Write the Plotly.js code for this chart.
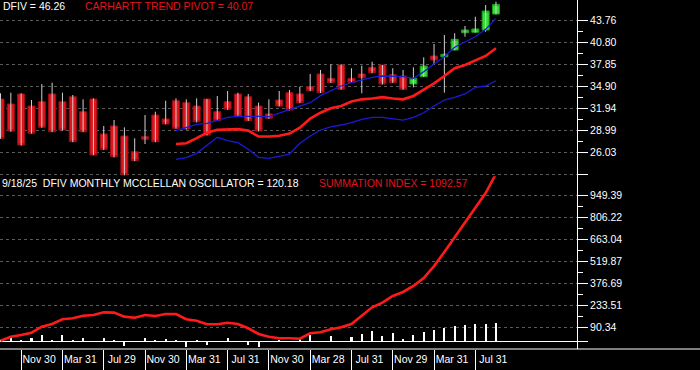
<!DOCTYPE html>
<html><head><meta charset="utf-8">
<script src="https://cdn.plot.ly/plotly-3.0.1.min.js"></script>
<style>html,body{margin:0;padding:0;background:#000;}#chart{width:700px;height:370px;}</style>
</head><body><div id="chart"></div>
<script>
// Months Sep 2021 .. Sep 2025
const months = ['2021-09','2021-10','2021-11','2021-12','2022-01','2022-02','2022-03','2022-04','2022-05','2022-06','2022-07','2022-08','2022-09','2022-10','2022-11','2022-12','2023-01','2023-02','2023-03','2023-04','2023-05','2023-06','2023-07','2023-08','2023-09','2023-10','2023-11','2023-12','2024-01','2024-02','2024-03','2024-04','2024-05','2024-06','2024-07','2024-08','2024-09','2024-10','2024-11','2024-12','2025-01','2025-02','2025-03','2025-04','2025-05','2025-06','2025-07','2025-08','2025-09'];

const open  = [33.24,32.57,33.92,32.30,32.88,33.92,32.88,33.55,31.54,33.24,28.54,29.62,28.27,26.16,28.18,31.09,30.56,33.01,32.75,32.30,33.24,31.54,32.88,33.92,33.55,32.30,31.23,33.11,34.09,33.92,34.90,36.60,36.02,37.81,36.02,36.60,37.50,37.81,36.51,36.33,35.26,36.24,39.02,38.92,39.82,42.15,42.20,42.51,44.66];
const high  = [34.01,34.09,34.01,33.11,35.26,35.43,34.09,33.78,33.20,33.33,29.62,30.42,29.44,27.96,31.09,31.54,33.01,33.33,33.20,33.33,33.24,33.65,34.32,34.09,33.92,32.75,33.20,34.32,34.45,34.90,36.60,37.14,37.90,37.90,37.37,37.72,38.25,37.81,37.37,37.14,37.50,38.84,40.63,41.84,42.07,43.05,44.30,45.87,46.31];
const low   = [27.90,28.85,27.00,28.60,29.40,28.80,29.00,27.45,28.80,25.70,26.40,25.40,23.00,24.90,27.20,27.45,29.85,29.25,29.15,30.10,28.35,30.30,31.80,30.90,30.30,28.90,30.60,32.25,31.70,32.70,34.30,34.05,35.40,34.50,35.40,34.01,36.70,35.20,35.40,34.50,34.81,36.20,37.81,34.09,39.80,41.61,42.15,42.28,44.60];
const close = [27.96,28.94,27.06,28.64,29.44,28.85,29.08,27.51,28.85,25.72,26.49,25.49,23.08,24.96,27.83,27.51,29.89,29.31,29.21,30.19,28.41,30.33,31.86,30.96,30.33,28.94,30.65,32.30,31.77,32.75,34.36,34.09,35.43,34.55,35.43,36.10,36.78,35.26,35.43,34.55,36.02,37.68,38.48,39.25,41.26,42.51,42.65,45.06,45.95];

const trendPivot = [null,null,null,null,null,null,null,null,null,null,null,null,null,null,null,null,null,
  27.2,27.3,28.0,28.7,29.1,29.2,29.2,29.0,28.2,28.2,28.3,28.6,29.4,30.6,31.4,32.0,32.3,32.9,33.2,33.3,33.5,33.3,33.2,33.65,34.45,35.35,36.33,37.37,37.81,38.39,39.02,40.07];
const upperBand = [null,null,null,null,null,null,null,null,null,null,null,null,null,null,null,null,null,
  28.99,29.44,29.85,29.98,30.40,30.78,30.92,30.96,30.92,30.87,31.32,31.77,32.30,32.75,33.70,34.40,34.99,35.43,35.79,36.16,36.33,36.33,36.24,36.02,36.91,37.94,38.92,40.19,40.94,41.61,42.60,44.08];
const lowerBand = [null,null,null,null,null,null,null,null,null,null,null,null,null,null,null,null,null,
  25.14,25.36,25.95,27.06,28.10,27.64,27.37,26.49,25.41,25.28,25.59,25.85,27.29,28.27,29.08,29.50,29.75,30.06,30.51,30.78,30.78,30.65,30.42,30.78,31.40,32.30,33.11,33.47,33.92,34.81,34.99,35.70];

const summation = [3,29,40,55,94,112,143,149,166,171,188,186,160,153,171,164,177,177,143,133,110,110,120,112,84,47,29,19,19,16,51,58,77,90,112,164,221,251,295,321,360,412,490,582,680,771,869,967,1092.57];
const oscillator = [10,22,7,22,43,7,37,5,22,3,22,5,-33,3,22,5,15,5,-37,5,-28,3,22,3,-28,-37,3,5,3,15,43,3,33,4,28,48,65,33,54,15,37,59,72,85,98,107,113,115,120.18];

const tickIdx = [2,6,10,14,18,22,26,30,34,38,42,46];
const tickLabels = ['Nov 30','Mar 31','Jul 29','Nov 30','Mar 31','Jul 31','Nov 30','Mar 28','Jul 31','Nov 29','Mar 31','Jul 31'];

const priceTicks = [26.03,28.99,31.94,34.90,37.85,40.80,43.76];
const priceBottomTick = 23.08;
const sumTicks = [90.34,233.51,376.69,519.87,663.04,806.22,949.39];

const x = months.map((m,i)=>i);

function mids(a){const r=[];for(let i=0;i<a.length-1;i++)r.push((a[i]+a[i+1])/2);return r;}

// wicks
const wx=[], wy=[];
x.forEach((xi,i)=>{wx.push(xi,xi,null); wy.push(low[i],high[i],null);});

function subset(up){
  const o={x:[],open:[],high:[],low:[],close:[]};
  x.forEach((xi,i)=>{
    if((close[i]>open[i])===up){
      o.x.push(xi);o.open.push(open[i]);o.close.push(close[i]);
      o.high.push(Math.max(open[i],close[i]));o.low.push(Math.min(open[i],close[i]));
    }
  });
  return o;
}
const red=subset(false), green=subset(true);

const traces = [
  {type:'scatter',mode:'lines',x:wx,y:wy,line:{color:'#d0d0d0',width:1},xaxis:'x',yaxis:'y',hoverinfo:'skip'},
  Object.assign({type:'candlestick',xaxis:'x',yaxis:'y',whiskerwidth:0,
    increasing:{fillcolor:'#e0161d',line:{color:'#9c0e14',width:1}},
    decreasing:{fillcolor:'#e0161d',line:{color:'#9c0e14',width:1}}},red),
  Object.assign({type:'candlestick',xaxis:'x',yaxis:'y',whiskerwidth:0,
    increasing:{fillcolor:'#36dc36',line:{color:'#1d9c1d',width:1}},
    decreasing:{fillcolor:'#36dc36',line:{color:'#1d9c1d',width:1}}},green),
  {type:'scatter',mode:'lines',x:x,y:lowerBand,line:{color:'#1a1ad8',width:1.3},xaxis:'x',yaxis:'y'},
  {type:'scatter',mode:'lines',x:x,y:upperBand,line:{color:'#1a1ad8',width:1.3},xaxis:'x',yaxis:'y'},
  {type:'scatter',mode:'lines',x:x,y:trendPivot,line:{color:'#ff1a1a',width:2.6},xaxis:'x',yaxis:'y'},
  {type:'bar',x:x,y:oscillator,width:0.2,marker:{color:'#ffffff',line:{width:0}},xaxis:'x',yaxis:'y2'},
  {type:'scatter',mode:'lines',x:x,y:summation,line:{color:'#ff1a1a',width:2.6},xaxis:'x',yaxis:'y2'}
];

const FONT = 'Arial, "Liberation Sans", sans-serif';
const yCommon = {
  side:'right', showline:true, linecolor:'#ffffff', linewidth:1,
  ticks:'outside', ticklen:10, tickcolor:'#ffffff', tickwidth:1,
  showgrid:true, gridcolor:'#5a5a5a', gridwidth:1, griddash:'3px,3px',
  zeroline:false, tickfont:{family:FONT,size:10.5,color:'#ffffff'}, fixedrange:true
};

const layout = {
  width:700, height:370, margin:{l:0,r:123,t:0,b:21,pad:0},
  paper_bgcolor:'#000000', plot_bgcolor:'#000000', showlegend:false,
  font:{family:FONT,size:10.5,color:'#ffffff'}, hovermode:false, bargap:0,
  boxgap:0.03, boxgroupgap:0.3,
  xaxis:{range:[-0.05,55.85], anchor:'y2', tickmode:'array', tickvals:tickIdx, ticktext:tickLabels,
    ticks:'outside', ticklen:21, tickcolor:'#ffffff', tickwidth:1, ticklabelstandoff:-21, ticklabelshift:18,
    showgrid:false, zeroline:false, showline:false, rangeslider:{visible:false}, fixedrange:true,
    tickfont:{family:FONT,size:10.5,color:'#ffffff'}},
  yaxis:Object.assign({}, yCommon, {domain:[0.4948,1], range:[22.86,46.54], anchor:'x',
    tickmode:'array', tickvals:[priceBottomTick].concat(priceTicks),
    ticktext:[''].concat(priceTicks.map(v=>v.toFixed(2))),
    minor:{tickmode:'array', tickvals:mids(priceTicks), ticks:'outside', ticklen:5, tickcolor:'#ffffff', showgrid:false}}),
  yaxis2:Object.assign({}, yCommon, {domain:[0,0.4948], range:[-51.3,1076], anchor:'x',
    tickmode:'array', tickvals:[0].concat(sumTicks), ticktext:[''].concat(sumTicks.map(v=>v.toFixed(2))),
    zeroline:true, zerolinecolor:'#ffffff', zerolinewidth:1,
    minor:{tickmode:'array', tickvals:mids(sumTicks), ticks:'outside', ticklen:5, tickcolor:'#ffffff', showgrid:false}}),
  shapes:[
    {type:'line', xref:'paper', yref:'paper', x0:0, x1:700/577, y0:0, y1:0, line:{color:'#ffffff', width:1}}
  ],
  annotations:[
    {xref:'paper',yref:'paper',x:0.002,y:0.983,xanchor:'left',yanchor:'middle',showarrow:false,
      text:'DFIV = 46.26',font:{family:FONT,size:10.5,color:'#ffffff'}},
    {xref:'paper',yref:'paper',x:0.143,y:0.983,xanchor:'left',yanchor:'middle',showarrow:false,
      text:'CARHARTT TREND PIVOT = 40.07',font:{family:FONT,size:10.5,color:'#e0141e'}},
    {xref:'paper',yref:'paper',x:0.0,y:0.476,xanchor:'left',yanchor:'middle',showarrow:false,
      text:'9/18/25&nbsp;&nbsp;DFIV MONTHLY MCCLELLAN OSCILLATOR = 120.18',font:{family:FONT,size:10.5,color:'#ffffff'}},
    {xref:'paper',yref:'paper',x:0.549,y:0.476,xanchor:'left',yanchor:'middle',showarrow:false,
      text:'SUMMATION INDEX = 1092.57',font:{family:FONT,size:10.5,color:'#e0141e'}}
  ]
};

Plotly.newPlot('chart', traces, layout, {staticPlot:true, displayModeBar:false});
</script>
</body></html>
